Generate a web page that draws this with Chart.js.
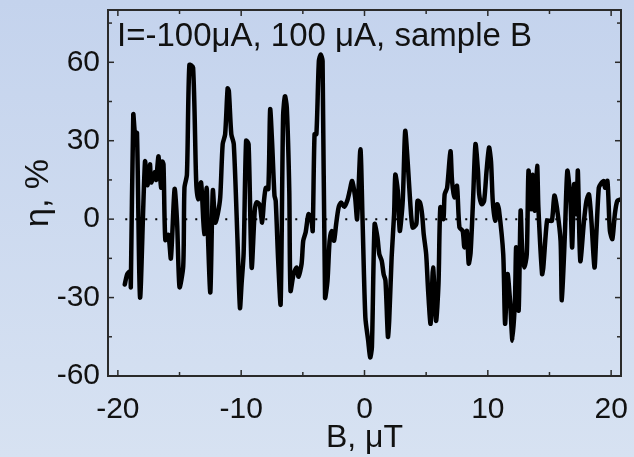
<!DOCTYPE html>
<html>
<head>
<meta charset="utf-8">
<script src="https://cdn.jsdelivr.net/npm/chart.js@4"></script>
<style>
html, body { margin: 0; padding: 0; }
body { width: 634px; height: 457px; overflow: hidden; background: linear-gradient(#c4d3ed, #d7e2f2); }
</style>
</head>
<body>
<canvas id="chart" width="634" height="457"></canvas>
<script>
// B field (uT) and asymmetry eta (%)
var bField = [
    -19.44, -19.24, -19.0, -18.95, -18.75, -18.6, -18.45, -18.2, -17.8, -17.6,
    -17.4, -17.3, -17.0, -16.9, -16.7, -16.5, -16.4, -16.3, -16.15, -15.9,
    -15.7, -15.4, -15.2, -15.0, -14.7, -14.6, -14.4, -14.2, -13.9, -13.65,
    -13.5, -13.25, -13.0, -12.8, -12.7, -12.5, -12.3, -12.1, -11.9, -11.7,
    -11.5, -11.3, -11.1, -11.0, -10.8, -10.6, -10.3, -10.1, -9.97, -9.8,
    -9.6, -9.4, -9.15, -8.9, -8.75, -8.5, -8.3, -8.15, -8.0, -7.8,
    -7.65, -7.5, -7.3, -7.2, -7.0, -6.8, -6.6, -6.45, -6.3, -6.1,
    -6.0, -5.75, -5.5, -5.35, -5.1, -4.97, -4.77, -4.54, -4.3, -4.2,
    -4.05, -3.9, -3.7, -3.55, -3.4, -3.2, -3.0, -2.83, -2.66, -2.47,
    -2.3, -2.1, -1.9, -1.64, -1.4, -1.2, -1.0, -0.76, -0.6, -0.33,
    -0.16, 0.07, 0.3, 0.46, 0.6, 0.82, 1.05, 1.2, 1.4, 1.55,
    1.7, 1.9, 2.0, 2.2, 2.4, 2.5, 2.7, 2.86, 3.1, 3.3,
    3.5, 3.7, 3.9, 4.2, 4.3, 4.5, 4.67, 4.8, 5.0, 5.16,
    5.36, 5.56, 5.8, 6.0, 6.15, 6.4, 6.5, 6.7, 6.97, 7.1,
    7.3, 7.5, 7.7, 7.96, 8.1, 8.3, 8.45, 8.6, 8.8, 9.0,
    9.2, 9.3, 9.5, 9.7, 9.9, 10.1, 10.26, 10.4, 10.6, 10.76,
    10.9, 11.25, 11.4, 11.6, 11.8, 12.0, 12.2, 12.3, 12.5, 12.66,
    12.8, 12.96, 13.16, 13.3, 13.5, 13.65, 13.8, 14.0, 14.1, 14.4,
    14.5, 14.8, 15.0, 15.2, 15.4, 15.6, 15.9, 16.0, 16.25, 16.45,
    16.7, 16.84, 17.0, 17.2, 17.3, 17.5, 17.8, 18.0, 18.2, 18.4,
    18.65, 18.8, 19.0, 19.15, 19.4, 19.5, 19.7, 19.9, 20.1, 20.3,
    20.5, 20.8
];
var eta = [
    -25, -21, -20, -26, 40, 32, 33, -30, 22, 13,
    21, 14, 18, 15, 24, 12, 22, 21, -8, -6,
    -15, 11.5, -1, -26, -18, 12, 17, 59, 58, 14.6,
    7.6, 14, -5.7, 12, -5.7, -28, 11, -1.3, 1.9, 8.3,
    28.7, 32.5, 50, 49, 32.5, 28.7, -8, -34, -24.8, -13,
    30, 28.7, -18.5, 3.2, 6.4, 5.5, -1.3, 7, 12, 11.5,
    42, 30, 9, 7, -16, -32.5, 39.5, 47, 42.7, 10.8,
    -27.4, -21, -18.5, -22, -17, -8.3, -5, 1.9, -0.6, -4.5,
    32.5, 32.5, 60.5, 63, 60.5, -30, -23.5, -8.3, -4.5, -8.3,
    -1.9, 4.5, 6.4, 4.7, 7, 10.8, 14.6, 8.3, 0, 26.7,
    0, -37.6, -46.5, -52.9, -49, -1.9, -7, -13.4, -16, -21,
    -23.5, -45, -39, -14.6, 1.9, 17, 10.8, -4.5, 7, 33.7,
    22, 7, -3.2, -1.9, 7, 6.4, 1.9, -5.7, -13.4, -27.4,
    -40, -18.5, -38.9, -24.8, 4.5, 0, 9.5, 12, 26, 14.6,
    8.3, 12.7, -3.2, -4.5, -10.8, -4.5, -17, -13, 7, 28.7,
    18.5, 9.5, 5.7, 7, 18.5, 27.4, 22, 7, -0.6, 5.7,
    3.8, -13.4, -40, -21, -31, -46.5, -31, -10.8, -35, 3.2,
    -13.4, -18.5, -13.4, 18.5, 3.8, 17, 3.2, 20.4, 4.5, -21,
    -18.5, -0.6, -0.6, -0.6, 9, 4.5, -8.3, -31, -5.7, 18.5,
    7, -10.8, 13.4, 1.9, 18.5, -16, -0.6, 7, 9.5, -0.6,
    -18.5, -5.7, 12, 13.4, 14.6, 12, 14.6, -4.5, -7.6, 1.9,
    7, 7.6
];
var zeroLineX = [-19.4, 20.7];
var zeroLineY = [0, 0];

var xMajorTicks = [-20, -10, 0, 10, 20];
var xMinorTicks = [-15, -5, 5, 15];
var yMajorTicks = [-60, -30, 0, 30, 60];
var yMinorTicks = [-45, -15, 15, 45, 75];

var annotation = 'I=-100\u03bcA, 100 \u03bcA, sample B';
var xTitle = 'B, \u03bcT';
var yTitle = '\u03b7, %';

var fontFamily = '"Liberation Sans", Arial, sans-serif';

function toPoints(xs, ys) {
    var pts = [];
    for (var i = 0; i < xs.length; i++) {
        pts.push({x: xs[i], y: ys[i]});
    }
    return pts;
}

var framePlugin = {
    id: 'frame',
    afterDatasetsDraw: function (chart) {
        var ctx = chart.ctx;
        var a = chart.chartArea;
        var xs = chart.scales.x;
        var ys = chart.scales.y;
        ctx.save();
        ctx.strokeStyle = '#2a2a2a';
        ctx.lineWidth = 2;
        ctx.strokeRect(a.left, a.top, a.right - a.left, a.bottom - a.top);

        ctx.lineWidth = 1.5;
        function seg(x1, y1, x2, y2) {
            ctx.beginPath();
            ctx.moveTo(x1, y1);
            ctx.lineTo(x2, y2);
            ctx.stroke();
        }
        function tickX(v, len) {
            var p = xs.getPixelForValue(v);
            seg(p, a.bottom, p, a.bottom - len);
            seg(p, a.top, p, a.top + len);
        }
        function tickY(v, len) {
            var p = ys.getPixelForValue(v);
            seg(a.left, p, a.left + len, p);
            seg(a.right, p, a.right - len, p);
        }
        xMajorTicks.forEach(function (v) { tickX(v, 6); });
        xMinorTicks.forEach(function (v) { tickX(v, 4); });
        yMajorTicks.forEach(function (v) { tickY(v, 6); });
        yMinorTicks.forEach(function (v) { tickY(v, 4); });

        ctx.fillStyle = '#111';
        ctx.font = '33px ' + fontFamily;
        ctx.textAlign = 'left';
        ctx.textBaseline = 'alphabetic';
        ctx.fillText(annotation, a.left + 9, a.top + 36);
        ctx.restore();
    }
};

function fixTicks(list) {
    return function (scale) {
        scale.ticks = list.map(function (v) { return {value: v}; });
    };
}

new Chart(document.getElementById('chart').getContext('2d'), {
    type: 'line',
    data: {
        datasets: [{
            data: toPoints(bField, eta),
            borderColor: '#000',
            borderWidth: 4.5,
            pointRadius: 0,
            tension: 0.25,
            borderJoinStyle: 'round',
            borderCapStyle: 'round',
            fill: false
        }, {
            data: toPoints(zeroLineX, zeroLineY),
            borderColor: '#000',
            borderWidth: 2,
            borderDash: [2, 8],
            pointRadius: 0,
            fill: false
        }]
    },
    options: {
        responsive: false,
        animation: false,
        events: [],
        layout: {padding: {top: 10, right: 13, bottom: 0, left: 0}},
        plugins: {legend: {display: false}, tooltip: {enabled: false}},
        scales: {
            x: {
                type: 'linear',
                min: -20.8,
                max: 20.8,
                grid: {display: false, drawTicks: false},
                border: {display: false},
                afterBuildTicks: fixTicks(xMajorTicks),
                ticks: {
                    color: '#111',
                    padding: 16,
                    maxRotation: 0,
                    font: {family: fontFamily, size: 30}
                },
                title: {
                    display: true,
                    text: xTitle,
                    color: '#111',
                    padding: {top: 0, bottom: 0},
                    font: {family: fontFamily, size: 32, lineHeight: 1.2}
                },
                afterFit: function (scale) {
                    scale.height = 81;
                    scale.paddingLeft = 0;
                    scale.paddingRight = 0;
                }
            },
            y: {
                type: 'linear',
                min: -60,
                max: 80,
                grid: {display: false, drawTicks: false},
                border: {display: false},
                afterBuildTicks: fixTicks(yMajorTicks),
                ticks: {
                    color: '#111',
                    padding: 8,
                    font: {family: fontFamily, size: 30}
                },
                title: {
                    display: true,
                    text: yTitle,
                    color: '#111',
                    padding: {top: 18, bottom: 0},
                    font: {family: fontFamily, size: 34, lineHeight: 1.2}
                },
                afterFit: function (scale) {
                    scale.width = 108;
                    scale.paddingTop = 0;
                    scale.paddingBottom = 0;
                }
            }
        }
    },
    plugins: [framePlugin]
});
</script>
</body>
</html>
